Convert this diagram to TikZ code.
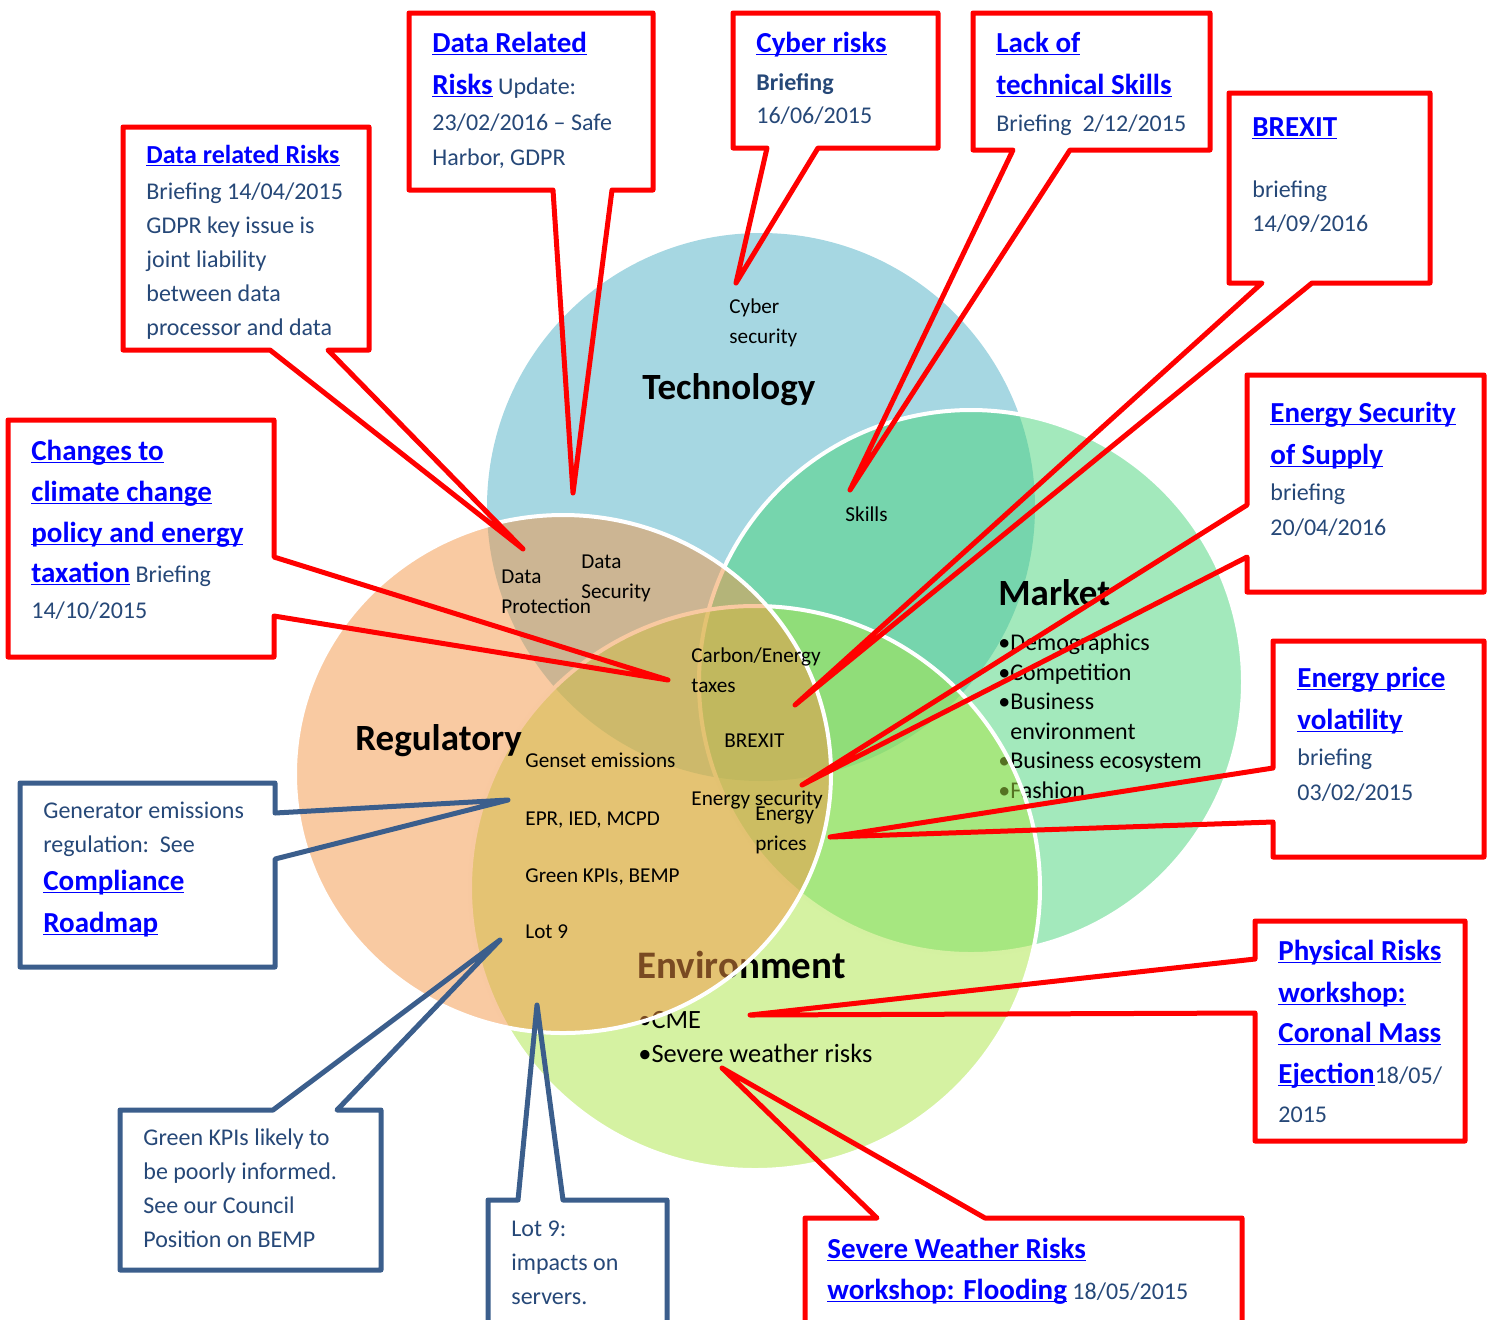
\documentclass[tikz,border=0pt]{standalone}
\usepackage{fontspec}
\setmainfont{Carlito}
\usetikzlibrary{calc}

\definecolor{techblue}{RGB}{77,175,197}
\definecolor{marketgreen}{RGB}{71,211,121}
\definecolor{envgreen}{RGB}{171,229,69}
\definecolor{regorange}{RGB}{243,149,69}
\definecolor{linkblue}{RGB}{0,0,255}
\definecolor{notetext}{RGB}{38,72,120}
\definecolor{callred}{RGB}{255,0,0}
\definecolor{callblue}{RGB}{59,94,140}

% underlined link text, fixed underline depth
\newcommand\weblink[2][14.5]{{\fontsize{#1}{#1}\selectfont\bfseries\color{linkblue}%
  \setbox0\hbox{#2}\rlap{\rule[-1.6pt]{\wd0}{0.75pt}}\box0}}

\tikzset{
  venn/.style={draw=white, line width=2pt, fill opacity=.5},
  big/.style={anchor=base west, inner sep=0pt, font=\bfseries\fontsize{18.5}{18.5}\selectfont},
  tag/.style={anchor=base west, inner sep=0pt, align=left, font=\fontsize{10.6}{15}\selectfont},
  item/.style={anchor=base west, inner sep=0pt, align=left, font=\fontsize{12}{14.75}\selectfont},
  box/.style={anchor=north west, inner sep=0pt, outer sep=0pt, fill=white},
  note/.style={anchor=base west, inner sep=0pt, align=left, text=notetext, font=\fontsize{12}{17.5}\selectfont},
  redline/.style={draw=callred, line width=2.5pt, line join=round},
  blueline/.style={draw=callblue, line width=2.5pt, line join=round},
}

\begin{document}
\begin{tikzpicture}[x=0.5pt, y=-0.5pt]
  \clip (0,0) rectangle (1494,1319);
  % --- the four sets, each with its own label ---
  % (text nodes sit on the baseline of their last line)
  \fill[techblue, fill opacity=.5] (761,507) circle[radius=137pt];
  \node[big] (tech) at (642,399) {Technology};
  \filldraw[venn, fill=marketgreen] (971,682) circle[radius=136pt];
  \node[big] (market) at (998,605) {Market};
  \node[item] (marketItems) at (998,798) {\textbullet Demographics\\ \textbullet Competition\\
    \textbullet Business\\ \hphantom{\textbullet}environment\\ \textbullet Business ecosystem\\ \textbullet Fashion};
  \filldraw[venn, fill=envgreen] (755,888) ellipse[x radius=142.5pt, y radius=141pt];
  \node[big, font=\bfseries\fontsize{19.5}{19.5}\selectfont] (env) at (637,978) {Environment};
  \node[item, font=\fontsize{13.2}{17}\selectfont] (envItems) at (638,1062) {\textbullet CME\\ \textbullet Severe weather risks};
  \filldraw[venn, fill=regorange] (563,774) ellipse[x radius=134pt, y radius=129.5pt];
  \node[big] (reg) at (355,750) {Regulatory};
  % --- labels in the overlaps ---
  \node[tag] (cyberTag) at (729,343) {Cyber\\security};
  \node[tag] (skillsTag) at (845,521) {Skills};
  \node[tag] (protTag) at (501,613) {Data\\Protection};
  \node[tag] (secTag) at (581,598) {Data\\Security};
  \node[tag] (carbonTag) at (691,692) {Carbon/Energy\\taxes};
  \node[tag] (brexitTag) at (724,747) {BREXIT};
  \node[tag] (gensetTag) at (525,767) {Genset emissions};
  \node[tag] (eprTag) at (525,825) {EPR, IED, MCPD};
  \node[tag] (kpiTag) at (525,882) {Green KPIs, BEMP};
  \node[tag] (lotTag) at (525,938) {Lot 9};
  \node[tag] (supplyTag) at (691,805) {Energy security};
  \node[tag] (priceTag) at (755,850) {Energy\\prices};
  % --- callout frames and pointer tips ---
  \foreach \n/\x/\y/\w/\h in {
      dataRisk/123/127/123pt/111.5pt, dataRel/409/13/122pt/88.5pt,
      cyber/733/13/102.5pt/67.5pt, skills/973/13/118.5pt/68.5pt,
      brexit/1229/93/100.5pt/95pt, supply/1247/375/118.5pt/108.5pt,
      price/1273/641/105.5pt/108pt, physical/1255/921/105pt/110pt,
      weather/805/1218/218.5pt/100pt, lot/488/1200/89.5pt/100pt,
      kpi/120/1110/130.5pt/80pt, gen/20/783/127.5pt/92pt,
      climate/8/420/133pt/118.5pt}
    \node[box, minimum width=\w, minimum height=\h] (\n) at (\x,\y) {};
  \foreach \n/\x/\y in {
      dataRiskTip/523/549, dataRelTip/573/493, cyberTip/736/283,
      skillsTip/850/490, brexitTip/795/705, supplyTip/802/785,
      priceTip/830/837, physicalTip/750/1015, weatherTip/722/1068,
      lotTip/537/1005, kpiTip/500/940, genTip/508/800, climateTip/668/680}
    \coordinate (\n) at (\x,\y);
  % --- callout texts ---
  \node[note, font=\fontsize{12}{17}\selectfont] (dataRiskTxt) at (146,335)
    {\weblink[13]{Data related Risks}\\[1pt] Briefing 14/04/2015\\ GDPR key issue is\\
     joint liability\\ between data\\ processor and data};
  \node[note] (dataRelTxt) at (432,165)
    {\weblink{Data Related}\\[3.5pt] \weblink{Risks} Update:\\[0.5pt] 23/02/2016 -- Safe\\ Harbor, GDPR};
  \node[note, font=\fontsize{12}{16.5}\selectfont] (cyberTxt) at (756,123)
    {\weblink{Cyber risks}\\[2.5pt] \textbf{Briefing}\\ 16/06/2015};
  \node[note] (skillsTxt) at (996,131)
    {\weblink{Lack of}\\[3.5pt] \weblink{technical Skills}\\[1pt] Briefing\ \ 2/12/2015};
  \node[note, font=\fontsize{12}{17}\selectfont] (brexitTxt) at (1252,231)
    {\weblink{BREXIT}\\[13.5pt] briefing\\ 14/09/2016};
  \node[note] (supplyTxt) at (1270,535)
    {\weblink{Energy Security}\\[3.5pt] \weblink{of Supply}\\[0.5pt] briefing\\ 20/04/2016};
  \node[note] (priceTxt) at (1297,800)
    {\weblink{Energy price}\\[3.5pt] \weblink{volatility}\\[0.5pt] briefing\\ 03/02/2015};
  \node[note] (physicalTxt) at (1278,1122)
    {\weblink{Physical Risks}\\[3.5pt] \weblink{workshop:}\\[2.5pt] \weblink{Coronal Mass}\\[3pt]
     \weblink{Ejection}18/05/\\[2pt] 2015};
  \node[note] (weatherTxt) at (827,1299)
    {\weblink{Severe Weather Risks}\\[3pt] \weblink{workshop: Flooding} 18/05/2015};
  \node[note, font=\fontsize{12}{17}\selectfont] (lotTxt) at (511,1304)
    {Lot 9:\\ impacts on\\ servers.};
  \node[note, font=\fontsize{12}{17}\selectfont] (kpiTxt) at (143,1247)
    {Green KPIs likely to\\ be poorly informed.\\ See our Council\\ Position on BEMP};
  \node[note, font=\fontsize{12}{17}\selectfont] (genTxt) at (43,932)
    {Generator emissions\\ regulation:\ \ See\\[2pt] \weblink{Compliance}\\[4pt] \weblink{Roadmap}};
  \node[note] (climateTxt) at (31,618)
    {\weblink{Changes to}\\[3pt] \weblink{climate change}\\[3pt] \weblink{policy and energy}\\[2.5pt]
     \weblink{taxation} Briefing\\[0.5pt] 14/10/2015};
  % --- callout outlines with their pointers ---
  \draw[redline] (dataRisk.south west) -- ++(147,0) -- (dataRiskTip) -- ($(dataRisk.south west)+(205,0)$)
    -- (dataRisk.south east) -- (dataRisk.north east) -- (dataRisk.north west) -- cycle;
  \draw[redline] (dataRel.south west) -- ++(144,0) -- (dataRelTip) -- ($(dataRel.south west)+(203,0)$)
    -- (dataRel.south east) -- (dataRel.north east) -- (dataRel.north west) -- cycle;
  \draw[redline] (cyber.south west) -- ++(34,0) -- (cyberTip) -- ($(cyber.south west)+(85,0)$)
    -- (cyber.south east) -- (cyber.north east) -- (cyber.north west) -- cycle;
  \draw[redline] (skills.south west) -- ++(40,0) -- (skillsTip) -- ($(skills.south west)+(97,0)$)
    -- (skills.south east) -- (skills.north east) -- (skills.north west) -- cycle;
  \draw[redline] (brexit.south west) -- ++(33,0) -- (brexitTip) -- ($(brexit.south west)+(83,0)$)
    -- (brexit.south east) -- (brexit.north east) -- (brexit.north west) -- cycle;
  \draw[redline] (supply.north west) -- ++(0,130) -- (supplyTip) -- ($(supply.north west)+(0,182)$)
    -- (supply.south west) -- (supply.south east) -- (supply.north east) -- cycle;
  \draw[redline] (price.north west) -- ++(0,127) -- (priceTip) -- ($(price.north west)+(0,181)$)
    -- (price.south west) -- (price.south east) -- (price.north east) -- cycle;
  \draw[redline] (physical.north west) -- ++(0,38) -- (physicalTip) -- ($(physical.north west)+(0,92)$)
    -- (physical.south west) -- (physical.south east) -- (physical.north east) -- cycle;
  \draw[redline] (weather.north west) -- ++(72,0) -- (weatherTip) -- ($(weather.north west)+(180,0)$)
    -- (weather.north east) -- (weather.south east) -- (weather.south west) -- cycle;
  \draw[redline] (climate.north east) -- ++(0,137) -- (climateTip) -- ($(climate.north east)+(0,196)$)
    -- (climate.south east) -- (climate.south west) -- (climate.north west) -- cycle;
  \draw[blueline] (lot.north west) -- ++(30,0) -- (lotTip) -- ($(lot.north west)+(75,0)$)
    -- (lot.north east) -- (lot.south east) -- (lot.south west) -- cycle;
  \draw[blueline] (kpi.north west) -- ++(153,0) -- (kpiTip) -- ($(kpi.north west)+(217,0)$)
    -- (kpi.north east) -- (kpi.south east) -- (kpi.south west) -- cycle;
  \draw[blueline] (gen.north east) -- ++(0,30) -- (genTip) -- ($(gen.north east)+(0,76)$)
    -- (gen.south east) -- (gen.south west) -- (gen.north west) -- cycle;
\end{tikzpicture}
\end{document}
